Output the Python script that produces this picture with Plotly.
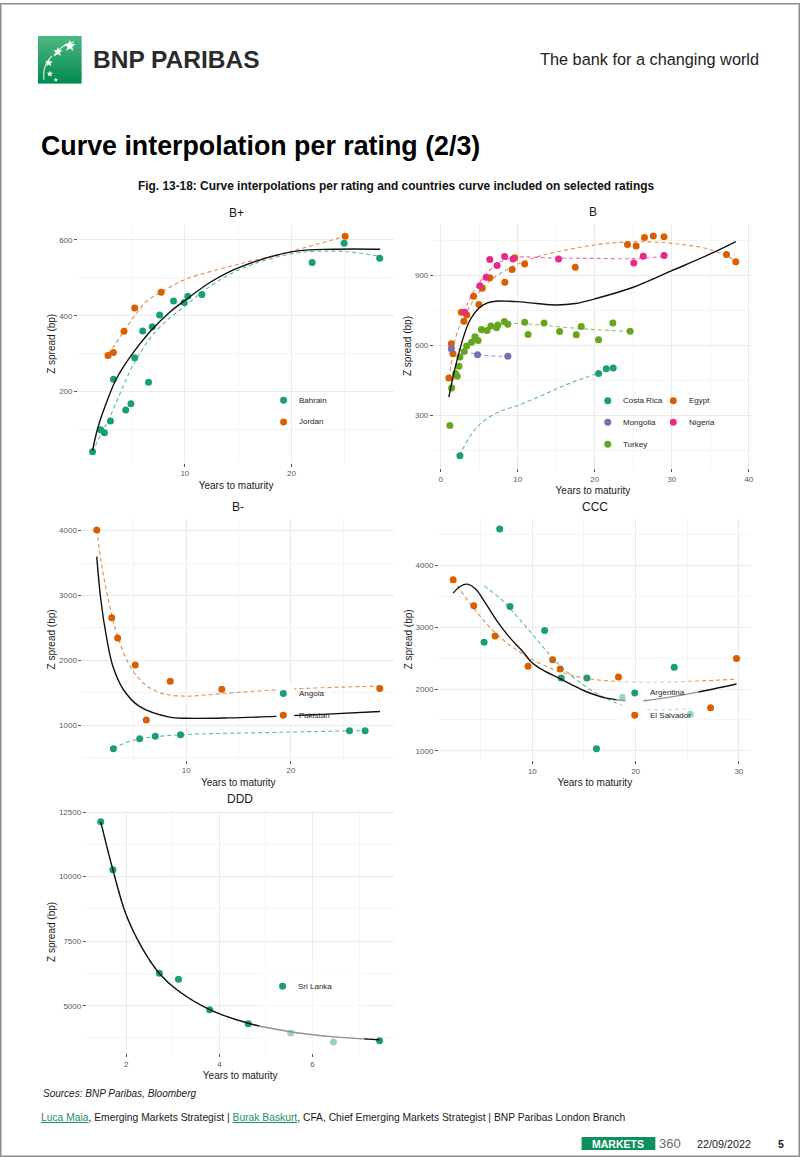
import base64
import math
import plotly.graph_objects as go

W, H = 802, 1157


def fx(p):
    return p / W


def fy(p):
    return 1 - p / H


TEAL, ORANGE, PURPLE, PINK, GREEN = '#1B9E77', '#D95F02', '#7570B3', '#E7298A', '#66A61E'
SANS = 'Liberation Sans, Arial, sans-serif'

# ---------------- data ----------------
# B+
bp_bahrain_x = [1.35, 2.12, 2.47, 3.03, 3.31, 4.46, 4.95, 5.3, 6.05, 6.6, 6.95, 7.64, 8.94, 9.94, 10.28, 11.6, 21.93, 24.93, 28.26]
bp_bahrain_y = [42, 100, 92, 123, 233, 152, 168, 289, 360, 225, 371, 402, 439, 435, 451, 456, 540, 591, 551]
bp_jordan_x = [2.8, 3.31, 4.3, 5.3, 7.79, 25.02]
bp_jordan_y = [295, 303, 359, 420, 462, 609]
bp_bahrain_fit_x = [1.35, 2, 3, 4, 5, 6, 7, 8.5, 10, 12, 15, 20, 24, 26, 28.3]
bp_bahrain_fit_y = [40, 80, 135, 200, 262, 310, 350, 392, 425, 470, 520, 563, 570, 566, 556]
bp_jordan_fit_x = [2.8, 3.3, 4.3, 5.3, 6.5, 7.8, 10, 15, 20, 25]
bp_jordan_fit_y = [300, 318, 360, 400, 440, 462, 495, 535, 570, 609]
bp_curve_x = [1.35, 1.87, 2.8, 3.59, 4.99, 6.71, 8.58, 10, 12.5, 15, 20, 24, 28.3]
bp_curve_y = [45, 107, 182, 234, 296, 357, 409, 440, 490, 526, 568, 575, 575]

# B
b_costa_x = [2.5, 20.5, 21.5, 22.4]
b_costa_y = [126, 479, 500, 503]
b_mongolia_x = [1.38, 4.79, 8.72]
b_mongolia_y = [586, 560, 554]
b_nigeria_x = [3.1, 5.09, 5.9, 6.38, 7.33, 8.3, 9.4, 15.3, 25.07, 26.3, 29.0]
b_nigeria_y = [743, 857, 893, 969, 943, 982, 971, 971, 954, 983, 986]
b_egypt_x = [1.07, 1.38, 1.6, 2.68, 3.02, 3.4, 4.27, 4.96, 5.4, 6.38, 8.33, 9.28, 9.62, 10.9, 17.47, 24.25, 25.37, 26.45, 27.6, 28.99, 37.1, 38.3]
b_egypt_y = [460, 607, 564, 743, 704, 731, 811, 776, 846, 891, 871, 926, 977, 950, 936, 1034, 1027, 1064, 1070, 1067, 991, 960]
b_turkey_x = [1.2, 1.42, 1.94, 2.15, 2.37, 2.5, 3.06, 3.37, 4.01, 4.44, 4.87, 5.3, 6.03, 6.51, 7.25, 7.42, 8.28, 8.71, 10.91, 11.35, 13.42, 15.44, 17.6, 18.25, 20.49, 22.35, 24.59]
b_turkey_y = [256, 417, 478, 468, 510, 550, 574, 598, 614, 637, 621, 668, 664, 683, 676, 688, 703, 691, 700, 647, 696, 660, 646, 681, 624, 696, 661]
b_costa_fit_x = [2.5, 2.8, 3.9, 5.2, 7.5, 10.1, 13.2, 16.2, 18.8, 20.5]
b_costa_fit_y = [126, 150, 214, 265, 314, 343, 386, 430, 462, 480]
b_mongolia_fit_x = [1.4, 3, 4.8, 6.5, 8.7]
b_mongolia_fit_y = [600, 575, 562, 555, 553]
b_nigeria_fit_x = [3.0, 4, 5.4, 7.5, 9.7, 15, 20, 25, 29]
b_nigeria_fit_y = [740, 815, 886, 955, 978, 975, 974, 973, 982]
b_egypt_fit_x = [1.07, 1.4, 2, 3, 4, 5, 6.5, 8, 10, 13, 17, 22, 27, 31, 35, 38.3]
b_egypt_fit_y = [460, 530, 640, 720, 780, 830, 880, 915, 950, 985, 1015, 1040, 1045, 1035, 1012, 965]
b_turkey_fit_x = [1.4, 2, 3, 4, 5, 6, 7, 8.5, 10, 13, 16, 20, 24.6]
b_turkey_fit_y = [420, 490, 570, 615, 645, 665, 680, 692, 694, 688, 678, 668, 660]
b_curve_x = [1.07, 1.5, 2.15, 3.0, 3.75, 4.96, 6, 7.12, 8.84, 10, 12.5, 15, 17.5, 20, 25, 30, 35, 38.3]
b_curve_y = [378, 450, 540, 640, 705, 760, 782, 790, 790, 788, 780, 774, 780, 800, 850, 921, 993, 1046]

# B-
bm_angola_x = [3.05, 5.56, 7.05, 9.46, 25.59, 27.08]
bm_angola_y = [642, 795, 831, 857, 918, 918]
bm_pakistan_x = [1.46, 2.89, 3.46, 5.14, 6.19, 8.48, 13.4, 28.48]
bm_pakistan_y = [4011, 2659, 2347, 1932, 1082, 1680, 1555, 1568]
bm_angola_fit_x = [3.05, 4, 5.5, 7, 9.5, 13, 18, 22, 25.6, 27.1]
bm_angola_fit_y = [640, 720, 790, 825, 855, 875, 890, 905, 915, 918]
bm_pakistan_fit_x = [1.46, 2, 2.9, 3.5, 4.5, 5.5, 6.5, 8, 10, 12, 15, 20, 25, 28.5]
bm_pakistan_fit_y = [4011, 3400, 2700, 2350, 1950, 1720, 1580, 1480, 1450, 1470, 1510, 1560, 1590, 1605]
bm_curve_x = [1.46, 1.85, 2.38, 3.0, 4.0, 5.5, 8.4, 10, 14, 18, 23, 28.5]
bm_curve_y = [3600, 2935, 2372, 1911, 1553, 1296, 1127, 1110, 1115, 1135, 1170, 1215]

# CCC
c_argentina_x = [5.33, 6.84, 7.84, 11.19, 12.8, 15.28, 16.21, 18.75, 23.74, 25.3]
c_argentina_y = [2756, 4592, 3337, 2949, 2179, 2179, 1033, 1868, 2352, 1592]
c_salvador_x = [2.33, 4.33, 6.39, 9.58, 11.96, 12.7, 18.34, 27.26, 29.77]
c_salvador_y = [3768, 3348, 2858, 2368, 2476, 2325, 2196, 1696, 2493]
c_argentina_fit_x = [5.33, 7, 8.5, 10, 11.5, 13, 14.5, 16, 17.5, 19, 21, 23, 25.3]
c_argentina_fit_y = [3671, 3450, 3180, 2890, 2590, 2330, 2120, 1950, 1820, 1722, 1669, 1665, 1685]
c_salvador_fit_x = [2.33, 4, 5.5, 7, 8.5, 10, 12.5, 15, 18, 22, 26, 29.8]
c_salvador_fit_y = [3768, 3380, 3070, 2820, 2630, 2476, 2290, 2180, 2125, 2110, 2130, 2160]
c_curve_x = [2.33, 3.0, 3.69, 4.5, 5.46, 6.5, 7.71, 9, 10, 11.2, 12.54, 13.8, 15.13, 17.06, 19.5, 21, 23, 26, 29.77]
c_curve_y = [3553, 3660, 3698, 3620, 3391, 3120, 2852, 2620, 2422, 2290, 2179, 2070, 1964, 1857, 1805, 1815, 1860, 1950, 2082]

# DDD
d_srilanka_x = [1.45, 1.71, 2.71, 3.12, 3.79, 4.62, 5.53, 6.45, 7.44]
d_srilanka_y = [12123, 10267, 6260, 6028, 4845, 4304, 3943, 3595, 3646]
d_curve_x = [1.45, 1.71, 2.0, 2.35, 2.71, 3.1, 3.79, 4.62, 5.5, 6.4, 7.44]
d_curve_y = [12120, 10270, 8500, 7200, 6250, 5600, 4850, 4320, 4000, 3800, 3680]

# ---------------- panels ----------------
panels = [
    dict(title='B+', l=78.3, r=395.0, t=222.7, b=460.7, xr=[0, 29.6], yr=[13.6, 638.4],
         xt=[10, 20], xm=[5, 15, 25], yt=[200, 400, 600], ym=[100, 300, 500]),
    dict(title='B', l=435.0, r=753.8, t=221.3, b=466.5, xr=[-0.875, 40.4], yr=[72, 1123],
         xt=[0, 10, 20, 30, 40], xm=[5, 15, 25, 35], yt=[300, 600, 900], ym=[150, 450, 750, 1050]),
    dict(title='B-', l=82.7, r=395.1, t=517.4, b=758.7, xr=[0.1, 29.85], yr=[471, 4178],
         xt=[10, 20], xm=[5, 15, 25], yt=[1000, 2000, 3000, 4000], ym=[500, 1500, 2500, 3500]),
    dict(title='CCC', l=440.1, r=752.5, t=517.1, b=758.9, xr=[0.96, 31.14], yr=[852, 4757],
         xt=[10, 20, 30], xm=[5, 15, 25], yt=[1000, 2000, 3000, 4000], ym=[1500, 2500, 3500, 4500]),
    dict(title='DDD', l=87.0, r=394.5, t=809.9, b=1052.7, xr=[1.15, 7.74], yr=[3168, 12551],
         xt=[2, 4, 6], xm=[3, 5, 7], yt=[5000, 7500, 10000, 12500], ym=[3750, 6250, 8750, 11250]),
]

fig = go.Figure()


def ax(i):
    return '' if i == 1 else str(i)


def points(i, x, y, color):
    fig.add_trace(go.Scatter(x=x, y=y, mode='markers', xaxis='x' + ax(i), yaxis='y' + ax(i),
                             marker=dict(color=color, size=7),
                             showlegend=False, hoverinfo='skip'))


def dashed(i, x, y, color):
    fig.add_trace(go.Scatter(x=x, y=y, mode='lines', xaxis='x' + ax(i), yaxis='y' + ax(i),
                             line=dict(color=color, width=1.1, dash='4px,3px', shape='spline', smoothing=1),
                             opacity=0.7, showlegend=False, hoverinfo='skip'))


def curve(i, x, y):
    fig.add_trace(go.Scatter(x=x, y=y, mode='lines', xaxis='x' + ax(i), yaxis='y' + ax(i),
                             line=dict(color='#111111', width=1.4, shape='spline', smoothing=1),
                             showlegend=False, hoverinfo='skip'))


# B+
points(1, bp_bahrain_x, bp_bahrain_y, TEAL)
points(1, bp_jordan_x, bp_jordan_y, ORANGE)
dashed(1, bp_bahrain_fit_x, bp_bahrain_fit_y, TEAL)
dashed(1, bp_jordan_fit_x, bp_jordan_fit_y, ORANGE)
curve(1, bp_curve_x, bp_curve_y)
# B
points(2, b_costa_x, b_costa_y, TEAL)
points(2, b_egypt_x, b_egypt_y, ORANGE)
points(2, b_mongolia_x, b_mongolia_y, PURPLE)
points(2, b_nigeria_x, b_nigeria_y, PINK)
points(2, b_turkey_x, b_turkey_y, GREEN)
dashed(2, b_costa_fit_x, b_costa_fit_y, TEAL)
dashed(2, b_egypt_fit_x, b_egypt_fit_y, ORANGE)
dashed(2, b_mongolia_fit_x, b_mongolia_fit_y, PURPLE)
dashed(2, b_nigeria_fit_x, b_nigeria_fit_y, PINK)
dashed(2, b_turkey_fit_x, b_turkey_fit_y, GREEN)
curve(2, b_curve_x, b_curve_y)
# B-
points(3, bm_angola_x, bm_angola_y, TEAL)
points(3, bm_pakistan_x, bm_pakistan_y, ORANGE)
dashed(3, bm_angola_fit_x, bm_angola_fit_y, TEAL)
dashed(3, bm_pakistan_fit_x, bm_pakistan_fit_y, ORANGE)
curve(3, bm_curve_x, bm_curve_y)
# CCC
points(4, c_argentina_x, c_argentina_y, TEAL)
points(4, c_salvador_x, c_salvador_y, ORANGE)
dashed(4, c_argentina_fit_x, c_argentina_fit_y, TEAL)
dashed(4, c_salvador_fit_x, c_salvador_fit_y, ORANGE)
curve(4, c_curve_x, c_curve_y)
# DDD
points(5, d_srilanka_x, d_srilanka_y, TEAL)
dashed(5, d_curve_x, d_curve_y, TEAL)
curve(5, d_curve_x, d_curve_y)

layout = dict(width=W, height=H, margin=dict(l=0, r=0, t=0, b=0), autosize=False,
              paper_bgcolor='white', plot_bgcolor='white', font=dict(family=SANS),
              showlegend=False)

annotations = []
shapes = []

for i, p in enumerate(panels, start=1):
    s = ax(i)
    layout['xaxis' + s] = dict(
        domain=[fx(p['l']), fx(p['r'])], range=p['xr'], anchor='y' + s,
        tickvals=p['xt'], ticktext=[str(v) for v in p['xt']],
        showgrid=True, gridcolor='#EBEBEB', gridwidth=1, zeroline=False, showline=False,
        ticks='outside', ticklen=3, tickcolor='#555555', tickwidth=1,
        tickfont=dict(size=8, color='#5A5A5A'),
        minor=dict(tickvals=p['xm'], showgrid=True, gridcolor='#F4F4F4', gridwidth=0.7, ticks=''),
        title=dict(text='Years to maturity', font=dict(size=10, color='#1A1A1A'), standoff=4),
        fixedrange=True)
    layout['yaxis' + s] = dict(
        domain=[fy(p['b']), fy(p['t'])], range=p['yr'], anchor='x' + s,
        tickvals=p['yt'], ticktext=[str(v) for v in p['yt']],
        showgrid=True, gridcolor='#EBEBEB', gridwidth=1, zeroline=False, showline=False,
        ticks='outside', ticklen=3, tickcolor='#555555', tickwidth=1,
        tickfont=dict(size=8, color='#5A5A5A'),
        minor=dict(tickvals=p['ym'], showgrid=True, gridcolor='#F4F4F4', gridwidth=0.7, ticks=''),
        title=dict(text='Z spread (bp)', font=dict(size=10, color='#1A1A1A'), standoff=1),
        fixedrange=True)
    annotations.append(dict(text=p['title'], x=fx((p['l'] + p['r']) / 2), y=fy(p['t'] - 12),
                            xref='paper', yref='paper', showarrow=False, xanchor='center',
                            yanchor='middle', font=dict(size=12, color='#1A1A1A')))


def prect(x0, y0, x1, y1, **kw):
    d = dict(type='rect', xref='paper', yref='paper', x0=fx(x0), x1=fx(x1), y0=fy(y1), y1=fy(y0),
             layer='above')
    d.update(kw)
    shapes.append(d)


# legend backgrounds (semi-transparent) and key cells (opaque)
prect(618, 680, 700, 726, fillcolor='rgba(255,255,255,0.55)', line=dict(width=0))
prect(260, 962, 365, 1050, fillcolor='rgba(255,255,255,0.55)', line=dict(width=0))
prect(627, 682, 645, 724, fillcolor='white', line=dict(width=0))
prect(277, 683, 295, 723, fillcolor='white', line=dict(width=0))

legend_items = [
    (284.3, 398.3, 297.5, 'Bahrain', TEAL), (284.3, 420.0, 297.5, 'Jordan', ORANGE),
    (609.3, 398.7, 622.5, 'Costa Rica', TEAL), (675.0, 398.7, 688.3, 'Egypt', ORANGE),
    (609.3, 420.3, 622.5, 'Mongolia', PURPLE), (675.0, 420.3, 688.3, 'Nigeria', PINK),
    (609.3, 442.3, 622.5, 'Turkey', GREEN),
    (284.0, 692.3, 297.5, 'Angola', TEAL), (284.0, 714.0, 297.5, 'Pakistan', ORANGE),
    (636.3, 691.7, 649.5, 'Argentina', TEAL), (636.3, 714.0, 649.5, 'El Salvador', ORANGE),
    (283.3, 985.7, 296.7, 'Sri Lanka', TEAL),
]
for cx, cy, tx, lab, col in legend_items:
    shapes.append(dict(type='circle', xref='paper', yref='paper', x0=fx(cx - 3.5), x1=fx(cx + 3.5),
                       y0=fy(cy + 3.5), y1=fy(cy - 3.5), fillcolor=col, line=dict(width=0),
                       layer='above'))
    annotations.append(dict(text=lab, x=fx(tx), y=fy(cy), xref='paper', yref='paper', showarrow=False,
                            xanchor='left', yanchor='middle', font=dict(size=8, color='#262626')))

# page border
shapes.append(dict(type='rect', xref='paper', yref='paper', x0=fx(0.75), x1=fx(801.25), y0=fy(1156.25),
                   y1=fy(0.75), line=dict(color='#8C8C8C', width=1.5), layer='above'))

# MARKETS badge
prect(583, 1137, 657, 1150, fillcolor='#0E8F5B', line=dict(width=0))


def text(t, x, y, size, color='#1A1A1A', anchor='left'):
    annotations.append(dict(text=t, x=fx(x), y=fy(y), xref='paper', yref='paper', showarrow=False,
                            xanchor=anchor, yanchor='middle', font=dict(size=size, color=color, family=SANS)))


text('<b>BNP PARIBAS</b>', 91, 57, 24.5, '#2B2B2B')
text('The bank for a changing world', 763, 56, 16.3, '#222222', 'right')
text('<b>Curve interpolation per rating (2/3)</b>', 39, 143, 26.8, '#000000')
text('<b>Fig. 13-18: Curve interpolations per rating and countries curve included on selected ratings</b>',
     397, 183, 11.9, '#111111', 'center')
text('<i>Sources: BNP Paribas, Bloomberg</i>', 41, 1093, 10, '#1A1A1A')
text("<span style='color:#1A8F63;text-decoration:underline'>Luca Maia</span>, Emerging Markets Strategist | "
     "<span style='color:#1A8F63;text-decoration:underline'>Burak Baskurt</span>, CFA, Chief Emerging Markets "
     "Strategist | BNP Paribas London Branch", 39, 1117, 10.3, '#1A1A1A')
text('<b>MARKETS</b>', 620, 1143.5, 10.5, '#FFFFFF', 'center')
text('360', 659, 1143.5, 13, '#6A6A6A')
text('22/09/2022', 697, 1143.5, 10.8, '#1A1A1A')
text('<b>5</b>', 778, 1143.5, 10.5, '#1A1A1A')


def star(cx, cy, r, n=5, inner=0.42):
    pts = []
    for k in range(2 * n):
        rr = r if k % 2 == 0 else r * inner
        a = -math.pi / 2 + k * math.pi / n
        pts.append(f'{cx + rr * math.cos(a):.2f},{cy + rr * math.sin(a):.2f}')
    return "<polygon points='" + ' '.join(pts) + "' fill='white'/>"


svg = ("<svg xmlns='http://www.w3.org/2000/svg' width='44' height='48' viewBox='0 0 44 48'>"
       "<defs><linearGradient id='g' x1='0' y1='0' x2='0' y2='1'>"
       "<stop offset='0' stop-color='#4DB882'/><stop offset='1' stop-color='#00894F'/></linearGradient></defs>"
       "<rect width='44' height='48' fill='url(#g)'/>"
       + star(32, 10, 6) + star(20, 16, 5) + star(11, 27, 4.2) + star(12, 38, 3.4) + star(18, 44, 2.4)
       + "<path d='M6 44 Q4 30 14 20' stroke='white' stroke-width='1.2' fill='none' opacity='0.8'/>"
       "<path d='M16 20 Q22 10 36 6' stroke='white' stroke-width='1.2' fill='none' opacity='0.8'/>"
       "</svg>")
logo_src = 'data:image/svg+xml;base64,' + base64.b64encode(svg.encode()).decode()
layout['images'] = [dict(source=logo_src, xref='paper', yref='paper', x=fx(38), y=fy(33),
                         sizex=44 / W, sizey=48 / H, xanchor='left', yanchor='top',
                         sizing='stretch', layer='above')]

layout['annotations'] = annotations
layout['shapes'] = shapes
fig.update_layout(**layout)
fig.write_html('out.html', config={'displayModeBar': False},
               post_script="document.body.style.margin='0';document.body.style.padding='0';"
                           "document.documentElement.style.overflow='hidden';")
